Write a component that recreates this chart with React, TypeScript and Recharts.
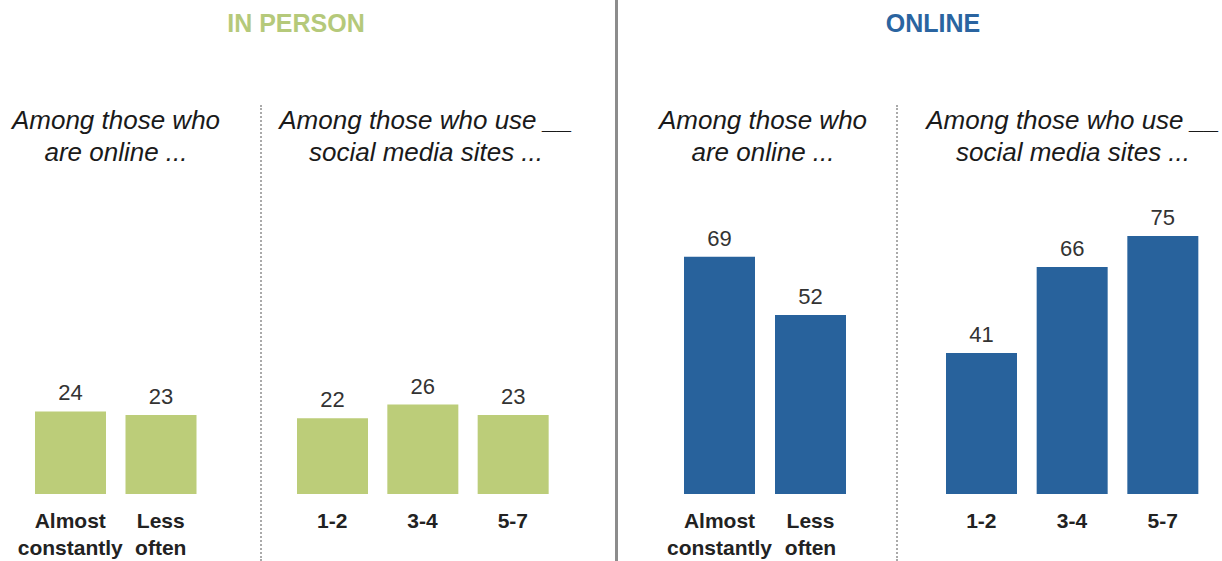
import { Bar, BarChart, LabelList, XAxis, YAxis } from "recharts"

// values (percent)
const onlineGroups = ["Almost constantly", "Less often"]
const mediaGroups = ["1-2", "3-4", "5-7"]

const inPersonOnline = [24, 23]
const inPersonMedia = [22, 26, 23]
const onlineOnline = [69, 52]
const onlineMedia = [41, 66, 75]

const GREEN = "#bccd79"
const BLUE = "#28629c"
const FONT = "'Liberation Sans', Arial, sans-serif"

const PAD = 30

const toRows = (cats: string[], vals: number[]) => cats.map((label, i) => ({ label, value: vals[i] }))

// two-line tick: first word on top, rest below
const WrapTick = (props: any) => {
  const { x, y, payload } = props
  const words = String(payload.value).split(" ")
  const lines = words.length > 1 ? [words[0], words.slice(1).join(" ")] : words
  return (
    <text x={x} y={y} textAnchor="middle" fill="#222" fontFamily={FONT} fontSize={21} fontWeight="bold">
      {lines.map((l, i) => (
        <tspan key={i} x={x} dy={i === 0 ? 26 : 27}>
          {l}
        </tspan>
      ))}
    </text>
  )
}

function Panel({ left, plotWidth, cats, vals, color }: { left: number; plotWidth: number; cats: string[]; vals: number[]; color: string }) {
  return (
    <div style={{ position: "absolute", left: left - PAD, top: 140 }}>
      <BarChart
        width={plotWidth + PAD * 2}
        height={421}
        data={toRows(cats, vals)}
        margin={{ top: 10, right: PAD, left: PAD, bottom: 0 }}
      >
        <XAxis dataKey="label" axisLine={false} tickLine={false} interval={0} height={67} tick={<WrapTick />} />
        <YAxis hide domain={[0, 100]} />
        <Bar dataKey="value" fill={color} barSize={71} isAnimationActive={false}>
          <LabelList dataKey="value" position="top" offset={11} fill="#333" fontSize={22} fontFamily={FONT} />
        </Bar>
      </BarChart>
    </div>
  )
}

const Subtitle = ({ center, lines }: { center: number; lines: string[] }) => (
  <div
    style={{
      position: "absolute",
      left: center - 170,
      width: 340,
      top: 104,
      textAlign: "center",
      fontFamily: FONT,
      fontStyle: "italic",
      fontSize: 26,
      lineHeight: "32px",
      color: "#1a1a1a",
    }}
  >
    {lines.map((l, i) => (
      <div key={i}>{l}</div>
    ))}
  </div>
)

const Title = ({ center, text, color }: { center: number; text: string; color: string }) => (
  <div
    style={{
      position: "absolute",
      left: center - 150,
      width: 300,
      top: 9,
      textAlign: "center",
      fontFamily: FONT,
      fontWeight: "bold",
      fontSize: 25,
      color,
    }}
  >
    {text}
  </div>
)

const Dotted = ({ x }: { x: number }) => (
  <div style={{ position: "absolute", left: x - 1, top: 105, height: 456, borderLeft: "2px dotted #aaa" }} />
)

export default function App() {
  return (
    <div style={{ position: "absolute", left: 0, top: 0, width: 1222, height: 561, background: "#fff", overflow: "hidden" }}>
      <Title center={296} text="IN PERSON" color="#b5c97a" />
      <Title center={933} text="ONLINE" color="#2a64a0" />

      <div style={{ position: "absolute", left: 615, top: 0, width: 3, height: 561, background: "#8c8c8c" }} />
      <Dotted x={261} />
      <Dotted x={897} />

      <Subtitle center={116} lines={["Among those who", "are online ..."]} />
      <Subtitle center={426} lines={["Among those who use __", "social media sites ..."]} />
      <Subtitle center={763} lines={["Among those who", "are online ..."]} />
      <Subtitle center={1073} lines={["Among those who use __", "social media sites ..."]} />

      <Panel left={25} plotWidth={181} cats={onlineGroups} vals={inPersonOnline} color={GREEN} />
      <Panel left={287} plotWidth={271} cats={mediaGroups} vals={inPersonMedia} color={GREEN} />
      <Panel left={674} plotWidth={182} cats={onlineGroups} vals={onlineOnline} color={BLUE} />
      <Panel left={936} plotWidth={272} cats={mediaGroups} vals={onlineMedia} color={BLUE} />
    </div>
  )
}
